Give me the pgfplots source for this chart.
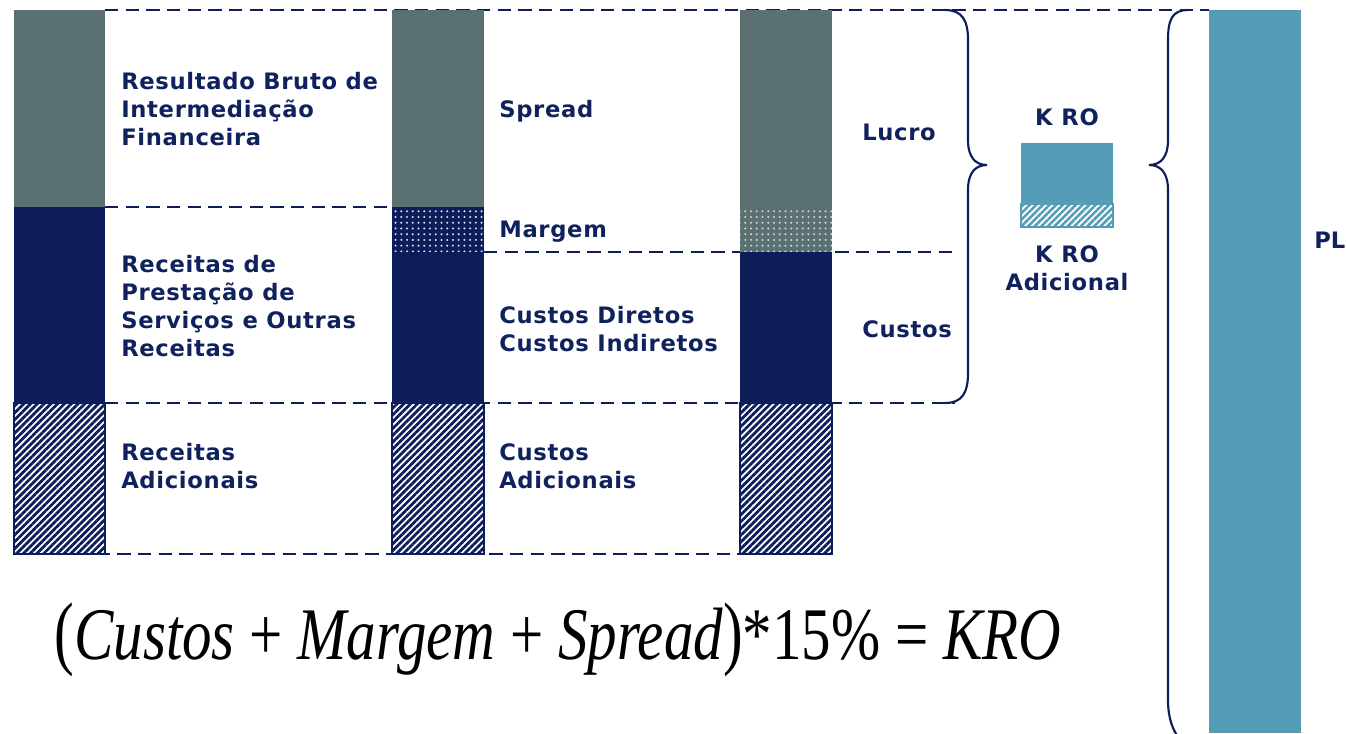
\documentclass[border=0pt]{standalone}
\usepackage{pgfplots}
\pgfplotsset{compat=1.18}
\usepackage{fontspec}
\setmainfont{DejaVu Sans}
\newfontfamily\seriffont{Liberation Serif}
\usetikzlibrary{patterns.meta}
\definecolor{greyc}{RGB}{91,112,112}
\definecolor{navyc}{RGB}{12,29,90}
\definecolor{bluec}{RGB}{85,156,183}
\definecolor{txtc}{RGB}{16,34,94}
\newcommand\lbl{\fontsize{17}{21}\selectfont\bfseries\addfontfeature{LetterSpace=3}}
\newcommand\lblp{\fontsize{17}{21}\selectfont\bfseries}
\begin{document}
\begin{tikzpicture}
\begin{axis}[at={(0,0)}, anchor=south west, scale only axis, width=1009.5pt, height=549.75pt,
  xmin=0, xmax=1346, ymin=0, ymax=733, y dir=reverse, axis lines=none, clip=false,
  every axis plot/.append style={mark=none}]
% dashed guide lines
\pgfplotsset{dl/.style={navyc, line width=2pt, dash pattern=on 10pt off 5.5pt}}
\addplot[dl] coordinates {(105,10) (1209,10)};
\addplot[dl] coordinates {(105,207) (392,207)};
\addplot[dl] coordinates {(484,252) (953,252)};
\addplot[dl] coordinates {(105,403) (955,403)};
\addplot[dl] coordinates {(14,554) (740,554)};
% column 1
\addplot[fill=greyc, draw=none] coordinates {(14,10) (105,10) (105,207) (14,207)} -- cycle;
\addplot[fill=navyc, draw=none] coordinates {(14,207) (105,207) (105,403) (14,403)} -- cycle;
\addplot[fill=white, pattern={Lines[angle=45, distance=3.6pt, line width=2.1pt]}, pattern color=navyc, draw=navyc, line width=1pt] coordinates {(14,403) (105,403) (105,554) (14,554)} -- cycle;
% column 2
\addplot[fill=greyc, draw=none] coordinates {(392,10) (484,10) (484,207) (392,207)} -- cycle;
\addplot[fill=navyc, draw=none, postaction={pattern={Dots[radius=0.85pt, distance=4.3pt]}, pattern color=white!85!navyc}] coordinates {(392,207) (484,207) (484,252) (392,252)} -- cycle;
\addplot[fill=navyc, draw=none] coordinates {(392,252) (484,252) (484,403) (392,403)} -- cycle;
\addplot[fill=white, pattern={Lines[angle=45, distance=3.6pt, line width=2.1pt]}, pattern color=navyc, draw=navyc, line width=1pt] coordinates {(392,403) (484,403) (484,554) (392,554)} -- cycle;
% column 3
\addplot[fill=greyc, draw=none] coordinates {(740,10) (832,10) (832,207) (740,207)} -- cycle;
\addplot[fill=greyc, draw=none, postaction={pattern={Dots[radius=0.85pt, distance=4.3pt]}, pattern color=white!70!greyc}] coordinates {(740,207) (832,207) (832,252) (740,252)} -- cycle;
\addplot[fill=navyc, draw=none] coordinates {(740,252) (832,252) (832,403) (740,403)} -- cycle;
\addplot[fill=white, pattern={Lines[angle=45, distance=3.6pt, line width=2.1pt]}, pattern color=navyc, draw=navyc, line width=1pt] coordinates {(740,403) (832,403) (832,554) (740,554)} -- cycle;
% K RO box
\addplot[fill=bluec, draw=none] coordinates {(1021,143) (1113,143) (1113,204) (1021,204)} -- cycle;
\addplot[fill=white, pattern={Lines[angle=45, distance=3.5pt, line width=1.9pt]}, pattern color=bluec, draw=bluec, line width=0.8pt] coordinates {(1021,204) (1113,204) (1113,227) (1021,227)} -- cycle;
% PL bar
\addplot[fill=bluec, draw=none] coordinates {(1209,10) (1301,10) (1301,733) (1209,733)} -- cycle;
% braces
\draw[navyc, line width=1.6pt] (axis cs:945,10) .. controls (axis cs:962,10) and (axis cs:968,20) .. (axis cs:968,40) -- (axis cs:968,140) .. controls (axis cs:968,158) and (axis cs:976,165) .. (axis cs:987,165) .. controls (axis cs:976,165) and (axis cs:968,172) .. (axis cs:968,190) -- (axis cs:968,373) .. controls (axis cs:968,393) and (axis cs:962,403) .. (axis cs:945,403);
\draw[navyc, line width=1.6pt] (axis cs:1188,10) .. controls (axis cs:1172,10) and (axis cs:1168,20) .. (axis cs:1168,40) -- (axis cs:1168,140) .. controls (axis cs:1168,158) and (axis cs:1160,165) .. (axis cs:1149,165) .. controls (axis cs:1160,165) and (axis cs:1168,172) .. (axis cs:1168,190) -- (axis cs:1168,700) .. controls (axis cs:1168,720) and (axis cs:1174,735) .. (axis cs:1185,745);
% labels
\tikzset{lab/.style={anchor=west, align=left, font=\lbl, text=txtc, inner xsep=0pt}}
\node[lab] at (axis cs:121,109) {Resultado Bruto de\\Intermediação\\Financeira};
\node[lab] at (axis cs:121,306) {Receitas de\\Prestação de\\Serviços e Outras\\Receitas};
\node[lab] at (axis cs:121,466) {Receitas\\Adicionais};
\node[lab] at (axis cs:499,111) {Spread};
\node[lab] at (axis cs:499,232) {Margem};
\node[lab] at (axis cs:499,329) {Custos Diretos\\Custos Indiretos};
\node[lab] at (axis cs:499,466) {Custos\\Adicionais};
\node[lab] at (axis cs:862,132) {Lucro};
\node[lab] at (axis cs:862,329) {Custos};
\node[anchor=center, align=center, font=\lbl, text=txtc] at (axis cs:1067,117) {K RO};
\node[anchor=center, align=center, font=\lbl, text=txtc] at (axis cs:1067,268) {K RO\\Adicional};
\node[anchor=west, font=\lblp, text=txtc, inner xsep=0pt] at (axis cs:1314,240) {PL};
% formula
\node[anchor=center, inner sep=0pt] at (axis cs:558,640) {\resizebox*{755pt}{55.5pt}{\seriffont\fontsize{40}{40}\selectfont\scalebox{1}[1.1]{(}\textit{Custos} + \textit{Margem} + \textit{Spread}\scalebox{1}[1.1]{)}*15\% = \textit{KRO}}};
\end{axis}
\pgfresetboundingbox
\path[use as bounding box] (0,0) rectangle (1009.5pt,549.75pt);
\end{tikzpicture}
\end{document}
